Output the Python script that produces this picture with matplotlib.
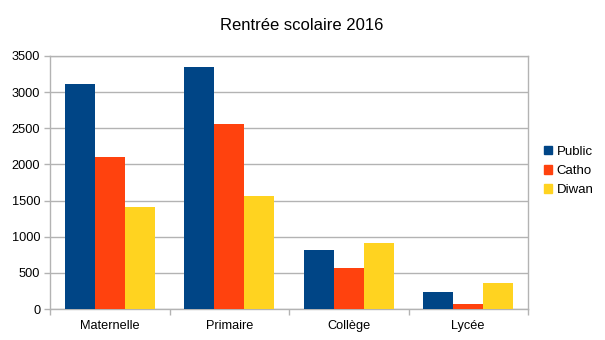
import numpy as np
import matplotlib
matplotlib.use('Agg')
import matplotlib.pyplot as plt
from matplotlib.patches import Patch

plt.rcParams['font.family'] = ['Liberation Sans', 'DejaVu Sans']

# Source data
categories = ['Maternelle', 'Primaire', 'Collège', 'Lycée']
public = [3110, 3350, 815, 235]
catho = [2100, 2560, 570, 70]
diwan = [1410, 1565, 915, 365]
series_names = ['Public', 'Catho', 'Diwan']
colors = ['#004586', '#ff420e', '#ffd320']
grid_col = '#b3b3b3'

fig = plt.figure(figsize=(6.05, 3.4), dpi=100)
ax = fig.add_axes([50/605, 31/340, 478/605, 253/340])

pos = np.arange(len(categories))
width = 0.251
for i, (vals, col) in enumerate(zip([public, catho, diwan], colors)):
    ax.bar(pos + (i - 1) * width, vals, width, color=col, zorder=3)

# Axes and grid
ax.set_xlim(-0.5, len(categories) - 0.5)
ax.set_ylim(0, 3500)
ax.set_yticks(np.arange(0, 3501, 500))
ax.set_xticks(pos)
ax.set_xticklabels(categories)
ax.set_xticks(np.arange(-0.5, len(categories)), minor=True)
ax.tick_params(axis='x', which='major', length=0, pad=8, labelsize=9.2)
ax.tick_params(axis='x', which='minor', length=4, color=grid_col, width=1)
ax.tick_params(axis='y', length=4, color=grid_col, width=1, labelsize=9.2, pad=3)
ax.grid(axis='y', color=grid_col, linewidth=1, zorder=0)
for s in ax.spines.values():
    s.set_color(grid_col)
    s.set_linewidth(1)

fig.text(302/605, 1 - 26/340, 'Rentrée scolaire 2016', ha='center', va='center',
         fontsize=12)

handles = [Patch(color=c) for c in colors]
fig.legend(handles, series_names, loc='center left',
           bbox_to_anchor=(544/605, 1 - 171/340), frameon=False,
           fontsize=9.5, handlelength=0.6, handleheight=0.6,
           handletextpad=0.35, labelspacing=0.55, borderaxespad=0,
           borderpad=0)

plt.savefig('out.png', dpi=100)
